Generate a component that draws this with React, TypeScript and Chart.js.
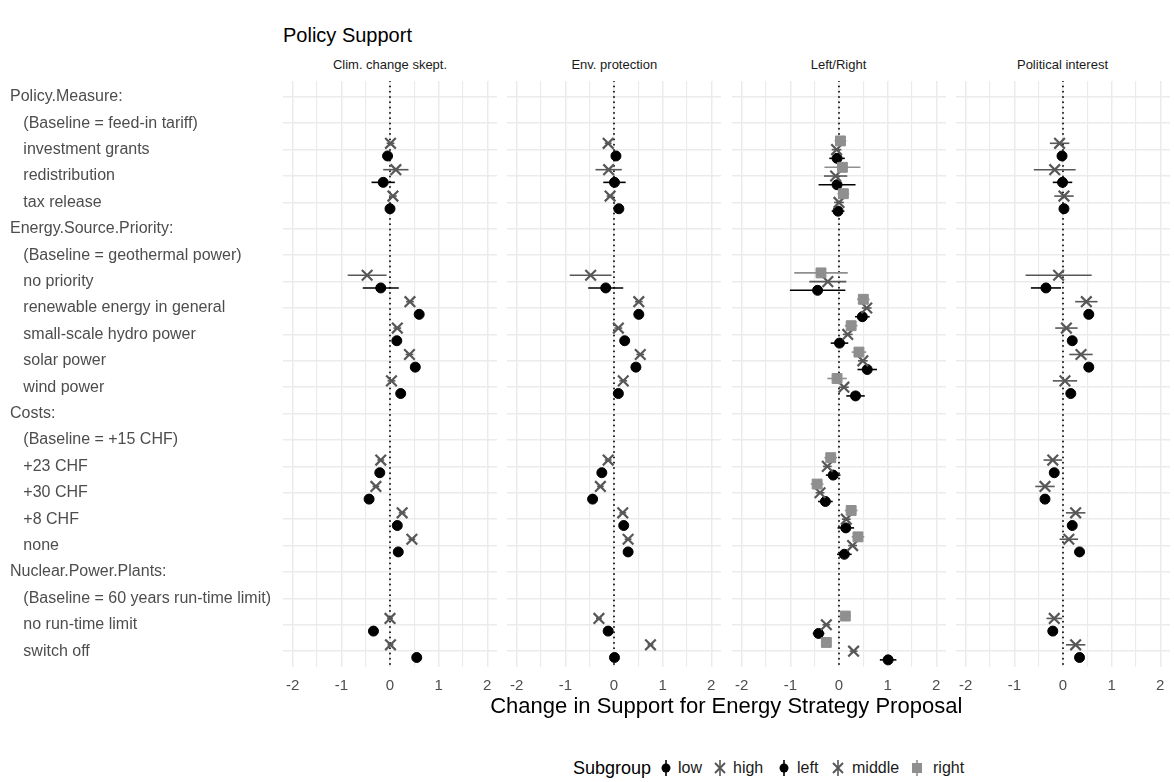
import React, { useEffect, useRef } from "react";
import { Chart, registerables } from "chart.js";

Chart.register(...registerables);

// Row labels of the coefficient plot (headers, baselines and levels)
const rowLabels = [
  "Policy.Measure:",
  "   (Baseline = feed-in tariff)",
  "   investment grants",
  "   redistribution",
  "   tax release",
  "Energy.Source.Priority:",
  "   (Baseline = geothermal power)",
  "   no priority",
  "   renewable energy in general",
  "   small-scale hydro power",
  "   solar power",
  "   wind power",
  "Costs:",
  "   (Baseline = +15 CHF)",
  "   +23 CHF",
  "   +30 CHF",
  "   +8 CHF",
  "   none",
  "Nuclear.Power.Plants:",
  "   (Baseline = 60 years run-time limit)",
  "   no run-time limit",
  "   switch off",
];

// Rows that carry an estimate (index into rowLabels)
const levelRows = [2, 3, 4, 7, 8, 9, 10, 11, 14, 15, 16, 17, 20, 21];

const xTicks = [-2, -1.5, -1, -0.5, 0, 0.5, 1, 1.5, 2];

// Clim. change skept.
const climLowEst = [-0.05, -0.14, 0.0, -0.19, 0.6, 0.14, 0.52, 0.22, -0.21, -0.43, 0.15, 0.17, -0.34, 0.55];
const climLowMoe = [0.06, 0.24, 0.06, 0.37, 0.07, 0.07, 0.07, 0.07, 0.06, 0.06, 0.06, 0.06, 0.06, 0.06];
const climHighEst = [0.01, 0.12, 0.06, -0.47, 0.41, 0.15, 0.4, 0.03, -0.19, -0.29, 0.25, 0.45, 0.0, 0.01];
const climHighMoe = [0.08, 0.26, 0.08, 0.4, 0.08, 0.08, 0.08, 0.08, 0.07, 0.07, 0.07, 0.07, 0.06, 0.06];

// Env. protection
const envLowEst = [0.04, 0.01, 0.1, -0.17, 0.51, 0.22, 0.45, 0.09, -0.25, -0.44, 0.2, 0.29, -0.12, 0.01];
const envLowMoe = [0.06, 0.23, 0.06, 0.36, 0.07, 0.07, 0.07, 0.07, 0.06, 0.06, 0.06, 0.06, 0.06, 0.06];
const envHighEst = [-0.12, -0.11, -0.08, -0.48, 0.51, 0.09, 0.54, 0.19, -0.12, -0.28, 0.18, 0.29, -0.31, 0.75];
const envHighMoe = [0.07, 0.27, 0.07, 0.43, 0.08, 0.08, 0.08, 0.08, 0.07, 0.07, 0.07, 0.07, 0.06, 0.06];

// Left/Right
const lrLeftEst = [-0.04, -0.04, -0.02, -0.44, 0.48, 0.01, 0.58, 0.34, -0.12, -0.28, 0.14, 0.11, -0.42, 1.01];
const lrLeftMoe = [0.16, 0.38, 0.13, 0.57, 0.15, 0.18, 0.2, 0.19, 0.15, 0.15, 0.17, 0.15, 0.12, 0.17];
const lrMiddleEst = [-0.05, -0.07, 0.0, -0.23, 0.57, 0.18, 0.49, 0.1, -0.24, -0.39, 0.15, 0.28, -0.26, 0.3];
const lrMiddleMoe = [0.1, 0.24, 0.1, 0.38, 0.1, 0.1, 0.1, 0.1, 0.09, 0.09, 0.09, 0.09, 0.08, 0.08];
const lrRightEst = [0.03, 0.07, 0.09, -0.37, 0.5, 0.25, 0.41, -0.04, -0.17, -0.45, 0.25, 0.39, 0.13, -0.26];
const lrRightMoe = [0.12, 0.37, 0.12, 0.55, 0.13, 0.13, 0.15, 0.2, 0.13, 0.13, 0.13, 0.13, 0.1, 0.1];

// Political interest
const polLowEst = [-0.02, -0.01, 0.02, -0.35, 0.53, 0.19, 0.53, 0.16, -0.18, -0.37, 0.19, 0.34, -0.21, 0.34];
const polLowMoe = [0.06, 0.2, 0.06, 0.31, 0.07, 0.07, 0.07, 0.07, 0.06, 0.06, 0.06, 0.06, 0.06, 0.06];
const polHighEst = [-0.07, -0.17, 0.02, -0.09, 0.48, 0.07, 0.37, 0.04, -0.21, -0.37, 0.26, 0.12, -0.18, 0.26];
const polHighMoe = [0.2, 0.43, 0.2, 0.68, 0.23, 0.23, 0.24, 0.25, 0.19, 0.2, 0.2, 0.19, 0.16, 0.2];

const FONT = "'Liberation Sans', Arial, Helvetica, sans-serif";
const BLACK = "#000000";
const MID = "#575757";
const LIGHT = "#8f8f8f";

type Style = { pointStyle: string; radius: number; color: string; fill: string; width: number };
const styles: Record<string, Style> = {
  low: { pointStyle: "circle", radius: 5, color: BLACK, fill: BLACK, width: 1 },
  left: { pointStyle: "circle", radius: 5, color: BLACK, fill: BLACK, width: 1 },
  high: { pointStyle: "crossRot", radius: 7.5, color: MID, fill: MID, width: 2.2 },
  middle: { pointStyle: "crossRot", radius: 7.5, color: MID, fill: MID, width: 2.2 },
  right: { pointStyle: "rect", radius: 7, color: LIGHT, fill: LIGHT, width: 1 },
};

type Series = { key: string; est: number[]; moe: number[]; dodge: number };
type Facet = { title: string; series: Series[] };

const facets: Facet[] = [
  {
    title: "Clim. change skept.",
    series: [
      { key: "high", est: climHighEst, moe: climHighMoe, dodge: -0.24 },
      { key: "low", est: climLowEst, moe: climLowMoe, dodge: 0.24 },
    ],
  },
  {
    title: "Env. protection",
    series: [
      { key: "high", est: envHighEst, moe: envHighMoe, dodge: -0.24 },
      { key: "low", est: envLowEst, moe: envLowMoe, dodge: 0.24 },
    ],
  },
  {
    title: "Left/Right",
    series: [
      { key: "right", est: lrRightEst, moe: lrRightMoe, dodge: -0.33 },
      { key: "middle", est: lrMiddleEst, moe: lrMiddleMoe, dodge: 0 },
      { key: "left", est: lrLeftEst, moe: lrLeftMoe, dodge: 0.33 },
    ],
  },
  {
    title: "Political interest",
    series: [
      { key: "high", est: polHighEst, moe: polHighMoe, dodge: -0.24 },
      { key: "low", est: polLowEst, moe: polLowMoe, dodge: 0.24 },
    ],
  },
];

// Horizontal interval lines and the dotted zero reference
const intervalPlugin = {
  id: "intervals",
  beforeDatasetsDraw(chart: any) {
    const { ctx, chartArea, scales } = chart;
    const x = scales.x;
    const y = scales.y;
    ctx.save();
    const x0 = x.getPixelForValue(0);
    ctx.strokeStyle = "#000";
    ctx.lineWidth = 1.8;
    ctx.lineCap = "round";
    ctx.setLineDash([0.1, 5.2]);
    ctx.beginPath();
    ctx.moveTo(x0, chartArea.top);
    ctx.lineTo(x0, chartArea.bottom);
    ctx.stroke();
    ctx.setLineDash([]);
    ctx.lineCap = "butt";
    chart.data.datasets.forEach((ds: any) => {
      ctx.strokeStyle = ds.intervalColor;
      ctx.lineWidth = 1.6;
      ds.data.forEach((p: any) => {
        const yy = y.getPixelForValue(p.y);
        ctx.beginPath();
        ctx.moveTo(x.getPixelForValue(p.lo), yy);
        ctx.lineTo(x.getPixelForValue(p.hi), yy);
        ctx.stroke();
      });
    });
    ctx.restore();
  },
};

const PLOT_H = 586;
const XAXIS_H = 32;
const Y_LABEL_W = 273;

function buildConfig(facet: Facet, showY: boolean): any {
  const datasets = facet.series.map((s) => {
    const st = styles[s.key];
    return {
      label: s.key,
      data: levelRows.map((r, i) => ({
        x: s.est[i],
        y: r + s.dodge,
        lo: s.est[i] - s.moe[i],
        hi: s.est[i] + s.moe[i],
      })),
      pointStyle: st.pointStyle,
      pointRadius: st.radius,
      pointBackgroundColor: st.fill,
      pointBorderColor: st.color,
      pointBorderWidth: st.width,
      intervalColor: st.color,
      showLine: false,
      clip: false,
    };
  });
  return {
    type: "scatter",
    data: { datasets },
    options: {
      animation: false,
      responsive: false,
      maintainAspectRatio: false,
      layout: { padding: 0, autoPadding: false },
      plugins: { legend: { display: false }, tooltip: { enabled: false } },
      scales: {
        x: {
          type: "linear",
          min: -2.2,
          max: 2.2,
          afterBuildTicks: (sc: any) => {
            sc.ticks = xTicks.map((v) => ({ value: v }));
          },
          afterFit: (sc: any) => {
            sc.height = XAXIS_H;
            sc.paddingLeft = 0;
            sc.paddingRight = 0;
          },
          ticks: {
            autoSkip: false,
            maxRotation: 0,
            padding: 10,
            color: "#4d4d4d",
            font: { family: FONT, size: 15 },
            callback: (v: number) => (Number.isInteger(v) ? String(v) : ""),
          },
          grid: {
            color: "#ebebeb",
            lineWidth: (c: any) => (c.tick && Number.isInteger(c.tick.value) ? 1.5 : 1.1),
            drawTicks: false,
          },
          border: { display: false },
        },
        y: {
          type: "linear",
          min: -0.6,
          max: rowLabels.length - 0.4,
          reverse: true,
          afterBuildTicks: (sc: any) => {
            sc.ticks = rowLabels.map((_, i) => ({ value: i }));
          },
          afterFit: (sc: any) => {
            sc.width = showY ? Y_LABEL_W : 0;
            sc.paddingTop = 0;
            sc.paddingBottom = 0;
          },
          ticks: {
            display: showY,
            autoSkip: false,
            crossAlign: "far",
            padding: 0,
            color: "#4d4d4d",
            font: { family: FONT, size: 16 },
            callback: (v: number) => rowLabels[v] ?? "",
          },
          grid: { color: "#ebebeb", lineWidth: 1.5, drawTicks: false },
          border: { display: false },
        },
      },
    },
    plugins: [intervalPlugin],
  };
}

function Panel({ facet, left, width, showY }: { facet: Facet; left: number; width: number; showY: boolean }) {
  const ref = useRef<HTMLCanvasElement>(null);
  useEffect(() => {
    if (!ref.current) return;
    const chart = new Chart(ref.current, buildConfig(facet, showY));
    return () => chart.destroy();
  }, [facet, showY]);
  const h = PLOT_H + XAXIS_H;
  return (
    <canvas
      ref={ref}
      width={width}
      height={h}
      style={{ position: "absolute", left, top: 81, width, height: h }}
    />
  );
}

// Legend keys: marker with a vertical interval line through it
function Key({ kind }: { kind: string }) {
  const st = styles[kind];
  const c = st.color;
  return (
    <svg width={16} height={20} viewBox="0 0 16 20" style={{ display: "block" }}>
      <line x1={8} y1={2} x2={8} y2={18} stroke={c} strokeWidth={1.6} />
      {st.pointStyle === "circle" && <circle cx={8} cy={10} r={4.5} fill={c} />}
      {st.pointStyle === "crossRot" && (
        <g stroke={c} strokeWidth={2}>
          <line x1={3} y1={5} x2={13} y2={15} />
          <line x1={13} y1={5} x2={3} y2={15} />
        </g>
      )}
      {st.pointStyle === "rect" && <rect x={3} y={5} width={10} height={10} fill={c} />}
    </svg>
  );
}

const legendItems = [
  { key: "low", keyX: 658, textX: 678 },
  { key: "high", keyX: 712, textX: 733 },
  { key: "left", keyX: 776, textX: 797 },
  { key: "middle", keyX: 830, textX: 852 },
  { key: "right", keyX: 909, textX: 933 },
];

const panelZeros = [390, 614.3, 838.5, 1062.5];
const PANEL_W = 214;

export default function App() {
  return (
    <div
      style={{
        position: "absolute",
        left: 0,
        top: 0,
        width: 1174,
        height: 782,
        background: "#fff",
        fontFamily: FONT,
        overflow: "hidden",
      }}
    >
      <div style={{ position: "absolute", left: 283, top: 22, fontSize: 20, color: "#000", lineHeight: "26px" }}>
        Policy Support
      </div>
      {facets.map((f, i) => {
        const left = panelZeros[i] - PANEL_W / 2;
        return (
          <div
            key={"strip" + i}
            style={{
              position: "absolute",
              left,
              width: PANEL_W,
              top: 56,
              textAlign: "center",
              fontSize: 13,
              color: "#1a1a1a",
              lineHeight: "18px",
            }}
          >
            {f.title}
          </div>
        );
      })}
      {facets.map((f, i) => {
        const left = panelZeros[i] - PANEL_W / 2;
        if (i === 0) {
          return <Panel key={"p" + i} facet={f} left={10} width={left + PANEL_W - 10} showY={true} />;
        }
        return <Panel key={"p" + i} facet={f} left={left} width={PANEL_W} showY={false} />;
      })}
      <div
        style={{
          position: "absolute",
          left: 283,
          width: 1169.5 - 283,
          top: 692,
          textAlign: "center",
          fontSize: 22,
          color: "#000",
          lineHeight: "28px",
        }}
      >
        Change in Support for Energy Strategy Proposal
      </div>
      <div style={{ position: "absolute", left: 573, top: 757, fontSize: 18, color: "#000", lineHeight: "22px" }}>
        Subgroup
      </div>
      {legendItems.map((it) => (
        <React.Fragment key={it.key}>
          <div style={{ position: "absolute", left: it.keyX, top: 758 }}>
            <Key kind={it.key} />
          </div>
          <div
            style={{
              position: "absolute",
              left: it.textX,
              top: 758,
              fontSize: 16,
              color: "#1a1a1a",
              lineHeight: "20px",
            }}
          >
            {it.key}
          </div>
        </React.Fragment>
      ))}
    </div>
  );
}
